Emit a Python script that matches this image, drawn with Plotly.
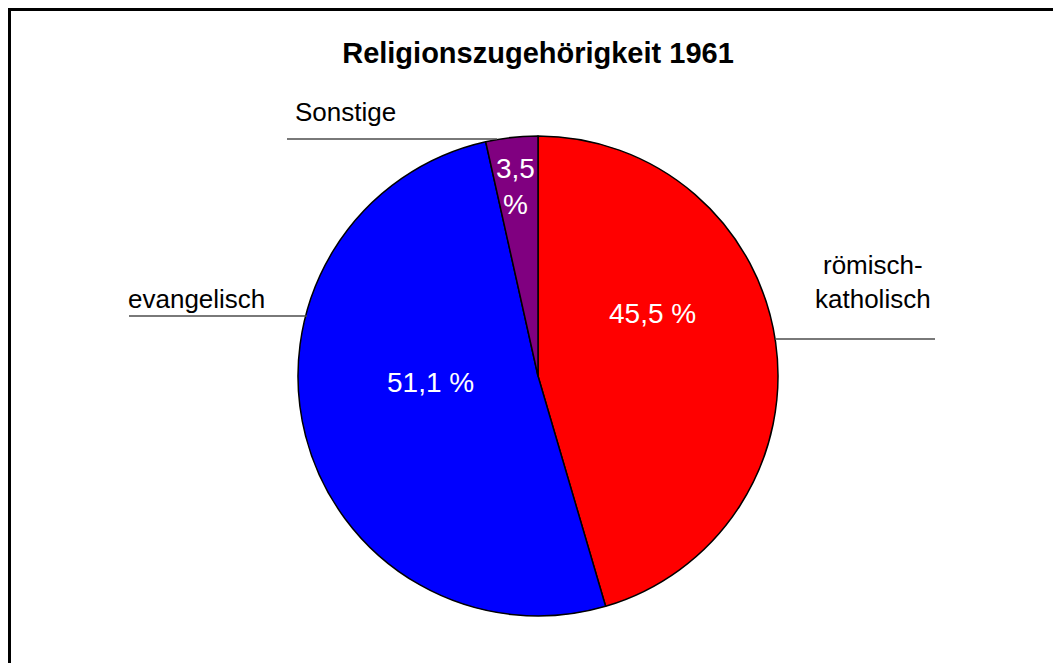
import plotly.graph_objects as go

OFF = 8  # the page body adds an 8px margin around the figure
W, H = 1061 - OFF, 663 - OFF

labels = ["römisch-katholisch", "evangelisch", "Sonstige"]
values = [45.5, 51.1, 3.5]
colors = ["#FF0000", "#0000FF", "#800080"]

FONT = "Liberation Sans, Arial, sans-serif"


def px(x, y):
    # screen pixel -> paper coords (margins are zero)
    return (x - OFF) / W, 1 - (y - OFF) / H


def pct(v):
    return f"{v:.1f}".replace(".", ",")


x0d, y1d = px(298, 136)
x1d, y0d = px(778, 616)

fig = go.Figure(go.Pie(
    labels=labels,
    values=values,
    marker=dict(colors=colors, line=dict(color="black", width=1.5)),
    sort=False,
    direction="clockwise",
    rotation=0,
    textinfo="none",
    hoverinfo="label+percent",
    domain=dict(x=[x0d, x1d], y=[y0d, y1d]),
    showlegend=False,
))

annotations = []


def add_text(x, y, text, color="black", size=26):
    ax, ay = px(x, y)
    annotations.append(dict(x=ax, y=ay, xref="paper", yref="paper", text=text,
                            showarrow=False, xanchor="center", yanchor="middle",
                            font=dict(family=FONT, size=size, color=color)))


# values inside the slices
add_text(652, 313, pct(values[0]) + " %", "white", 28)
add_text(430, 383, pct(values[1]) + " %", "white", 28)
add_text(515, 186, pct(values[2]) + "<br>%", "white", 28)

# outer category labels
add_text(873, 282, "römisch-<br>katholisch")
add_text(196, 299, labels[1])
add_text(345, 112, labels[2])

shapes = []
for xa, xb, y in [(775, 935, 339), (129, 307, 316), (287, 497, 139)]:
    a0, b0 = px(xa, y)
    a1, _ = px(xb, y)
    shapes.append(dict(type="line", xref="paper", yref="paper", x0=a0, x1=a1, y0=b0, y1=b0,
                       line=dict(color="#4d4d4d", width=1.5)))

# chart frame (only top/left visible in the cut-out)
bx, by = px(9.5, 9.5)
shapes.append(dict(type="rect", xref="paper", yref="paper", x0=bx, y0=-0.05, x1=1.05, y1=by,
                   line=dict(color="black", width=3)))

tx, ty = px(538, 53)
fig.update_layout(
    width=W, height=H,
    margin=dict(l=0, r=0, t=0, b=0),
    paper_bgcolor="white",
    plot_bgcolor="white",
    title=dict(text="<b>Religionszugehörigkeit 1961</b>", x=tx, xanchor="center",
               y=ty, yanchor="middle",
               font=dict(family=FONT, size=29, color="black")),
    annotations=annotations,
    shapes=shapes,
)

fig.write_html("out.html")
